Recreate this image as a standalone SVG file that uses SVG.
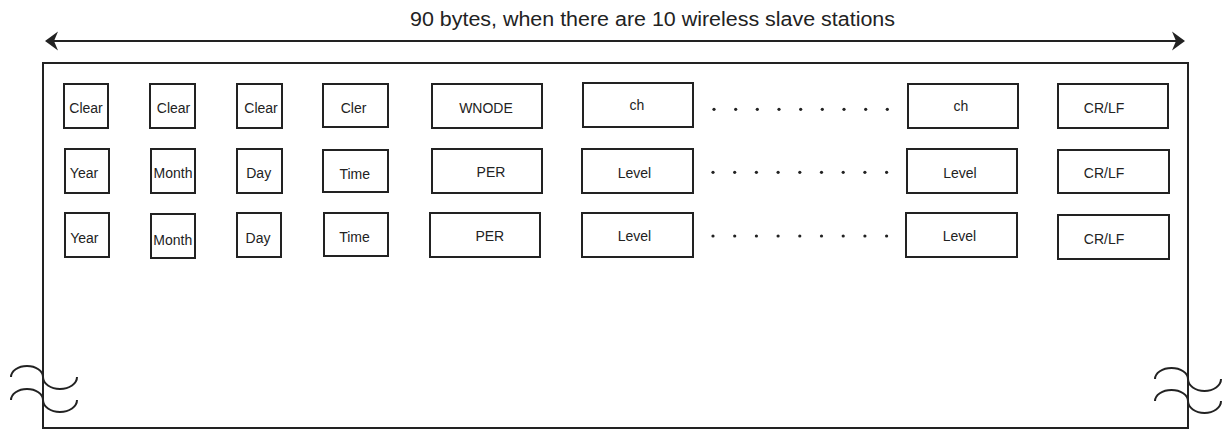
<svg xmlns="http://www.w3.org/2000/svg" width="1226" height="429" viewBox="0 0 1226 429">
<style>
  .box{fill:#fff;stroke:#222;stroke-width:2}
  .t{font-family:"Liberation Sans",Arial,sans-serif;font-size:14px;fill:#222;text-anchor:middle}
  .title{font-family:"Liberation Sans",Arial,sans-serif;font-size:20px;fill:#222}
  .ln{fill:none;stroke:#222;stroke-width:2}
  .dot{fill:#222}
</style>
<rect width="1226" height="429" fill="#fff"/>
<g id="frame">
  <rect class="ln" x="43" y="63" width="1145" height="365"/>
  <path class="ln" d="M11,377 A16,11 0 0 1 43,377 A17,12 0 0 0 77,377"/>
  <path class="ln" d="M11,400 A16,11 0 0 1 43,400 A17,12 0 0 0 77,400"/>
  <path class="ln" d="M1155,379 A16.5,11 0 0 1 1188,379 A16.5,12 0 0 0 1221,379"/>
  <path class="ln" d="M1155,401 A16.5,11 0 0 1 1188,401 A16.5,12 0 0 0 1221,401"/>
</g>
<g id="connectors">
  <line class="ln" x1="50" y1="41" x2="1180" y2="41"/>
  <path fill="#222" d="M1185,41 L1172,31.5 L1176,41 L1172,50.5 Z"/>
  <path fill="#222" d="M45,41 L58,31.5 L54,41 L58,50.5 Z"/>
</g>
<text class="title" x="410" y="26" textLength="485" lengthAdjust="spacingAndGlyphs">90 bytes, when there are 10 wireless slave stations</text>
<g id="row1">
  <g id="r1c1"><rect class="box" x="64" y="84" width="44" height="44"/><text class="t" x="86" y="113">Clear</text></g>
  <g id="r1c2"><rect class="box" x="150" y="84" width="45" height="44"/><text class="t" x="173.5" y="112.5">Clear</text></g>
  <g id="r1c3"><rect class="box" x="237" y="84" width="45" height="44"/><text class="t" x="261" y="112.5">Clear</text></g>
  <g id="r1c4"><rect class="box" x="323" y="84" width="65" height="43"/><text class="t" x="353.5" y="113">Cler</text></g>
  <g id="r1c5"><rect class="box" x="432" y="84" width="110" height="44"/><text class="t" x="486" y="112.7">WNODE</text></g>
  <g id="r1c6"><rect class="box" x="583" y="83" width="110" height="44"/><text class="t" x="637" y="110">ch</text></g>
  <g id="r1c7"><rect class="box" x="908" y="84" width="110" height="44"/><text class="t" x="961" y="110.5">ch</text></g>
  <g id="r1c8"><rect class="box" x="1058" y="84" width="110" height="44"/><text class="t" x="1104" y="113.3">CR/LF</text></g>
</g>
<g id="row2">
  <g id="r2c1"><rect class="box" x="65" y="149" width="44" height="44"/><text class="t" x="84" y="177.7">Year</text></g>
  <g id="r2c2"><rect class="box" x="151" y="149" width="44" height="44"/><text class="t" x="173" y="177.7">Month</text></g>
  <g id="r2c3"><rect class="box" x="237" y="149" width="45" height="44"/><text class="t" x="258.7" y="178">Day</text></g>
  <g id="r2c4"><rect class="box" x="323" y="150" width="65" height="42"/><text class="t" x="354.7" y="178.5">Time</text></g>
  <g id="r2c5"><rect class="box" x="432" y="149" width="110" height="44"/><text class="t" x="491" y="177.3">PER</text></g>
  <g id="r2c6"><rect class="box" x="582" y="149" width="111" height="44"/><text class="t" x="634.5" y="177.7">Level</text></g>
  <g id="r2c7"><rect class="box" x="907" y="149" width="110" height="44"/><text class="t" x="960" y="177.7">Level</text></g>
  <g id="r2c8"><rect class="box" x="1058" y="150" width="111" height="43"/><text class="t" x="1104" y="178.3">CR/LF</text></g>
</g>
<g id="row3">
  <g id="r3c1"><rect class="box" x="65" y="213" width="44" height="44"/><text class="t" x="84.3" y="242.7">Year</text></g>
  <g id="r3c2"><rect class="box" x="151" y="214" width="44" height="44"/><text class="t" x="172.8" y="245">Month</text></g>
  <g id="r3c3"><rect class="box" x="237" y="213" width="44" height="44"/><text class="t" x="258" y="242.7">Day</text></g>
  <g id="r3c4"><rect class="box" x="324" y="213" width="64" height="43"/><text class="t" x="354.5" y="241.7">Time</text></g>
  <g id="r3c5"><rect class="box" x="430" y="213" width="110" height="44"/><text class="t" x="489.8" y="240.7">PER</text></g>
  <g id="r3c6"><rect class="box" x="582" y="213" width="111" height="44"/><text class="t" x="634.5" y="240.7">Level</text></g>
  <g id="r3c7"><rect class="box" x="906" y="213" width="111" height="44"/><text class="t" x="959.5" y="240.7">Level</text></g>
  <g id="r3c8"><rect class="box" x="1058" y="215" width="111" height="44"/><text class="t" x="1104" y="244">CR/LF</text></g>
</g>
<g id="dots">
  <g class="dot">
    <circle cx="714" cy="109.3" r="1.6"/><circle cx="735.7" cy="109.3" r="1.6"/><circle cx="757.3" cy="109.3" r="1.6"/><circle cx="779" cy="109.3" r="1.6"/><circle cx="800.7" cy="109.3" r="1.6"/><circle cx="822.3" cy="109.3" r="1.6"/><circle cx="844" cy="109.3" r="1.6"/><circle cx="865.7" cy="109.3" r="1.6"/><circle cx="887.3" cy="109.3" r="1.6"/>
    <circle cx="713" cy="172.3" r="1.6"/><circle cx="734.7" cy="172.3" r="1.6"/><circle cx="756.4" cy="172.3" r="1.6"/><circle cx="778.1" cy="172.3" r="1.6"/><circle cx="799.8" cy="172.3" r="1.6"/><circle cx="821.5" cy="172.3" r="1.6"/><circle cx="843.2" cy="172.3" r="1.6"/><circle cx="864.9" cy="172.3" r="1.6"/><circle cx="886.6" cy="172.3" r="1.6"/>
    <circle cx="713" cy="236" r="1.6"/><circle cx="734.7" cy="236" r="1.6"/><circle cx="756.4" cy="236" r="1.6"/><circle cx="778.1" cy="236" r="1.6"/><circle cx="799.8" cy="236" r="1.6"/><circle cx="821.5" cy="236" r="1.6"/><circle cx="843.2" cy="236" r="1.6"/><circle cx="864.9" cy="236" r="1.6"/><circle cx="886.6" cy="236" r="1.6"/>
  </g>
</g>
</svg>
